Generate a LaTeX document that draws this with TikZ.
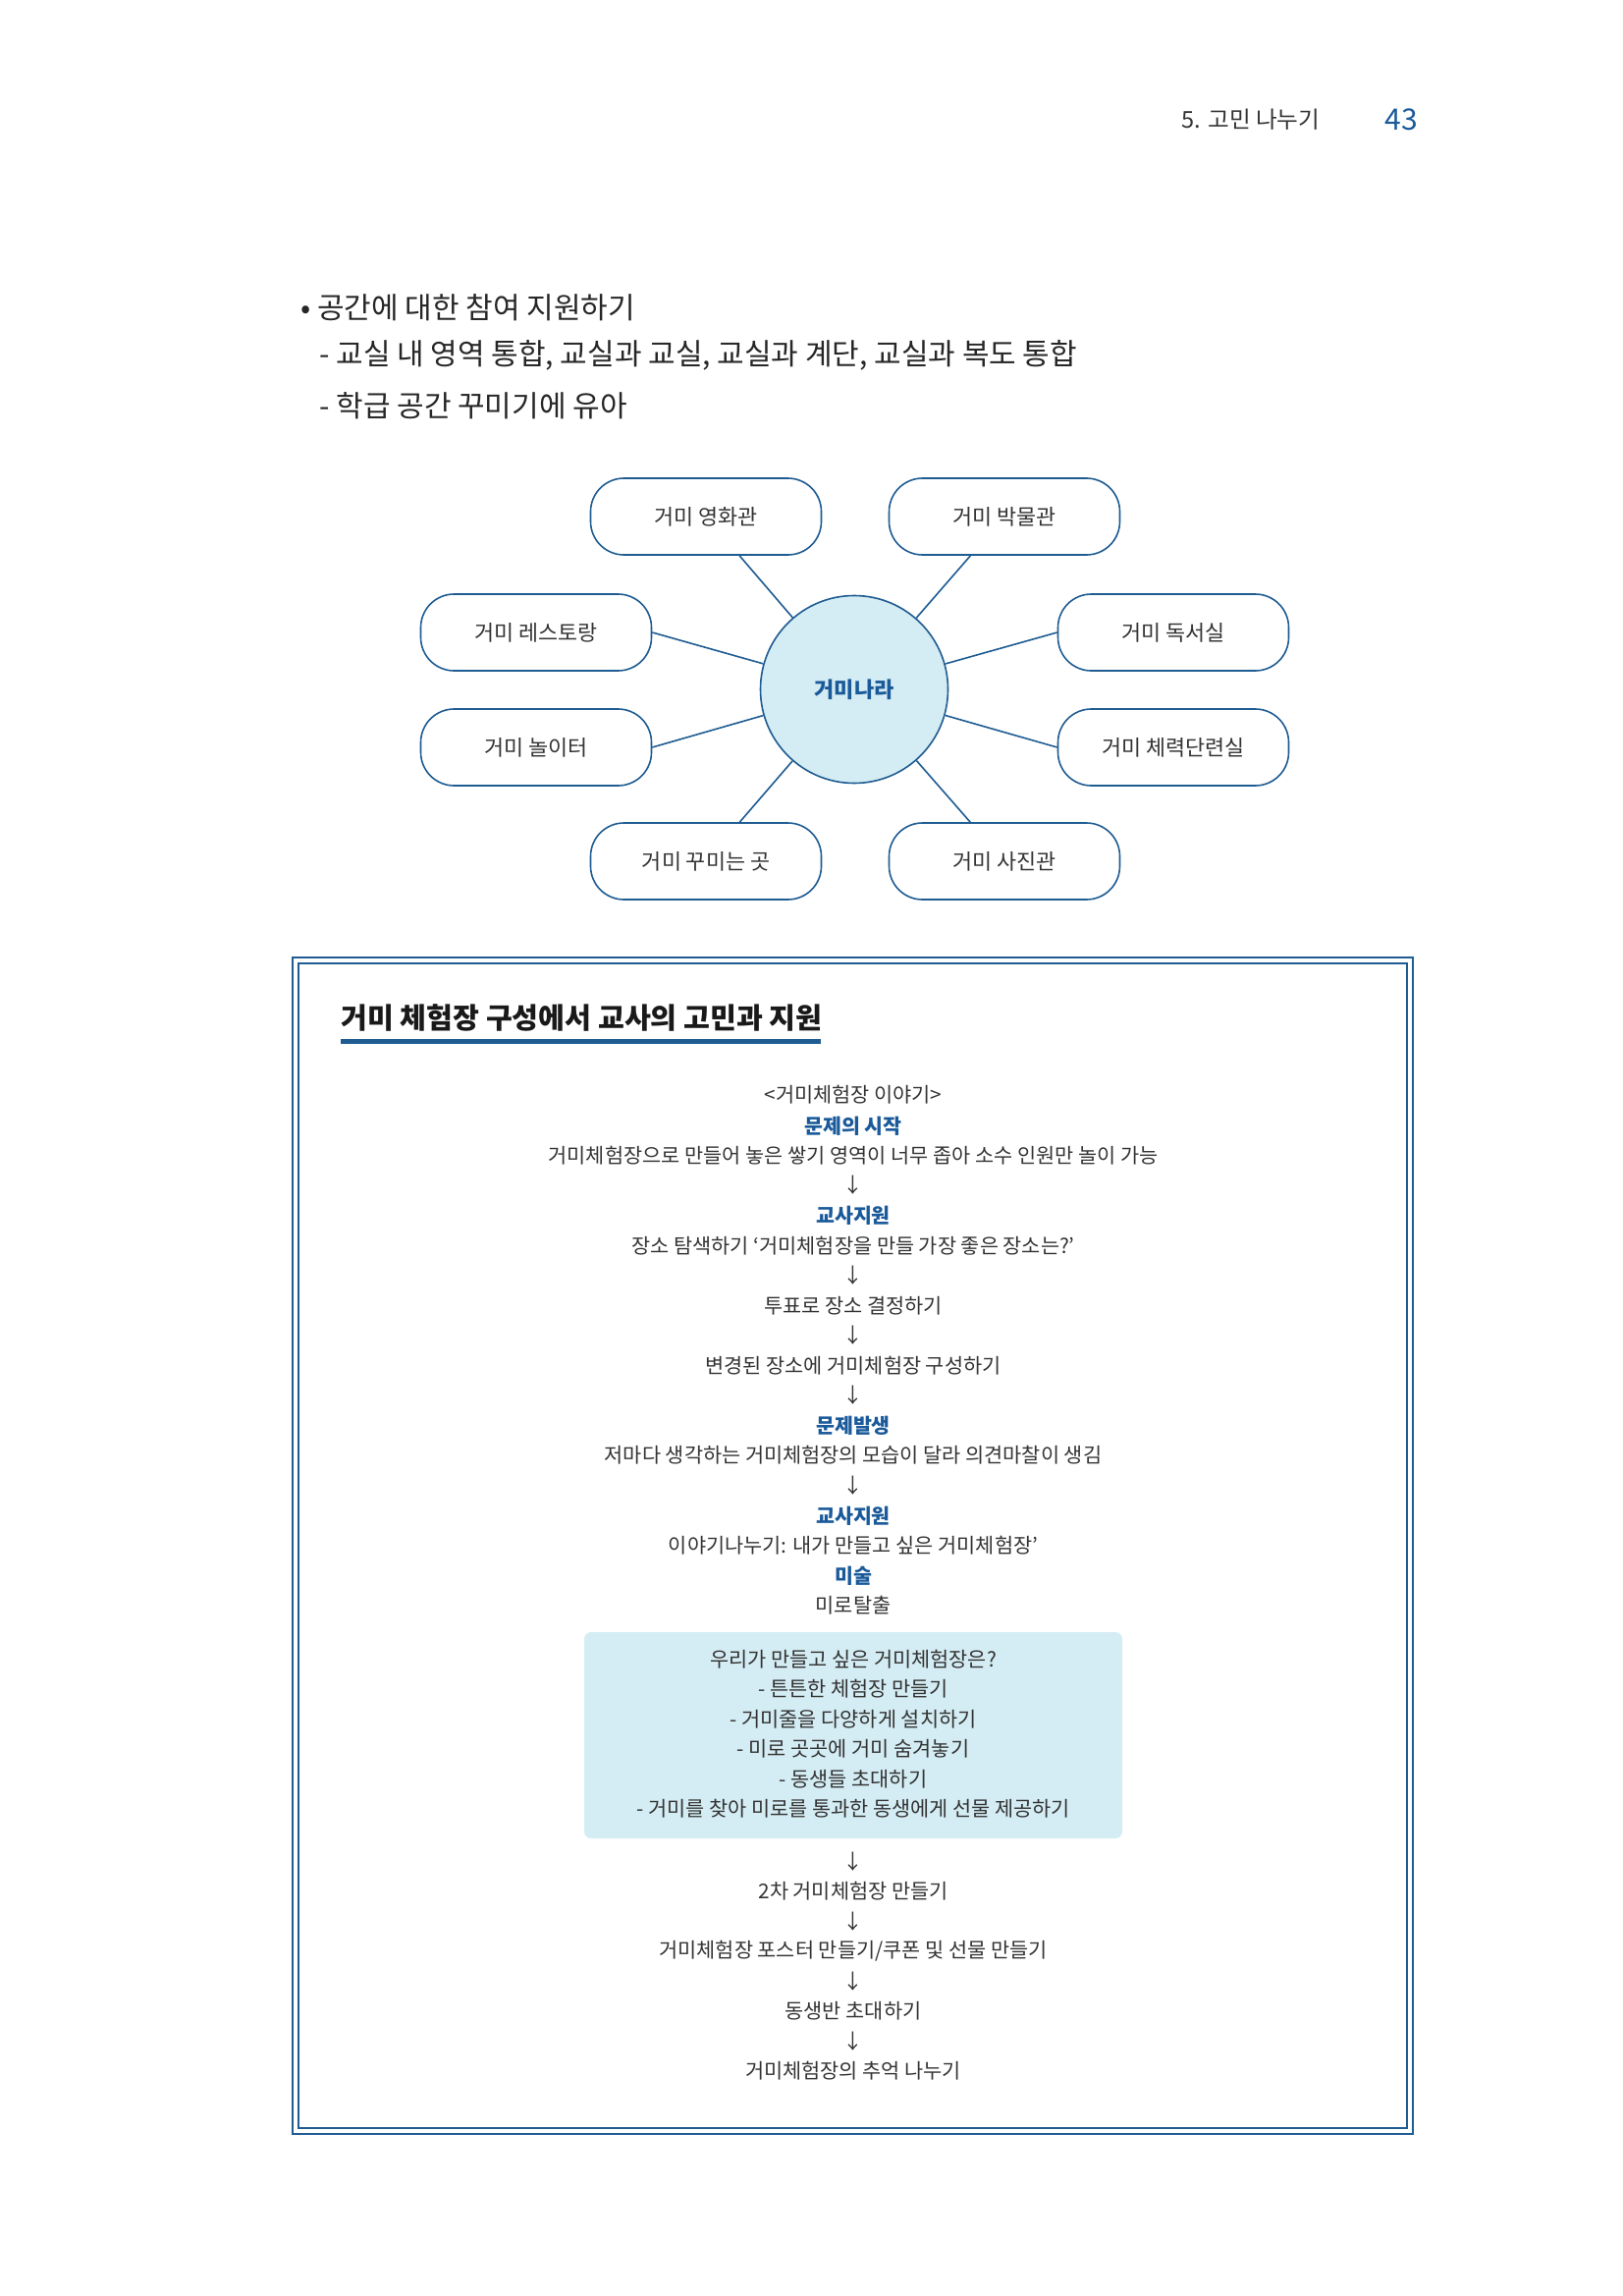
\documentclass[tikz,border=0pt]{standalone}
\usepackage{fontspec}
\setmainfont{Noto Sans CJK KR}
\definecolor{lineblue}{HTML}{1F5C92}
\definecolor{headblue}{HTML}{1A5A9A}
\definecolor{fillblue}{HTML}{D4ECF3}
\definecolor{txt}{HTML}{333333}
\begin{document}
\begin{tikzpicture}[x=0.5pt,y=-0.5pt,
  pill/.style={draw=lineblue, line width=0.8pt, rounded corners=17pt, minimum width=117.5pt, minimum height=39pt, inner sep=0pt, font=\fontsize{10.9}{12}\selectfont, text=txt, fill=white},
  hub/.style={circle, draw=lineblue, line width=0.8pt, fill=fillblue, minimum size=95.5pt, inner sep=0pt, font=\bfseries\fontsize{11}{12}\selectfont, text=headblue},
  link/.style={draw=lineblue, line width=0.8pt},
  flow/.style={inner sep=0pt, font=\fontsize{10.4}{12}\selectfont, text=txt},
  head/.style={inner sep=0pt, font=\bfseries\fontsize{10.3}{12}\selectfont, text=headblue},
  bul/.style={inner sep=0pt, anchor=west, font=\fontsize{15}{17}\selectfont, text=black!85},
  frame/.style={draw=lineblue, line width=1.25pt}
]
\useasboundingbox (0,0) rectangle (1653,2338);

% header
\node[inner sep=0pt, font=\fontsize{11.8}{13}\selectfont, text=txt] (hdr) at (1274,122) {5. 고민 나누기};
\node[inner sep=0pt, font=\fontsize{15}{17}\selectfont, text=headblue] (pg) at (1427,122) {43};

% bullet text
\node[bul] (b1) at (306,313) {• 공간에 대한 참여 지원하기};
\node[bul] (b2) at (325,362) {- 교실 내 영역 통합, 교실과 교실, 교실과 계단, 교실과 복도 통합};
\node[bul] (b3) at (325,413) {- 학급 공간 꾸미기에 유아};

% mind map
\node[hub] (hub) at (870,702) {거미나라};
\node[pill] (m1) at (719,526) {거미 영화관};
\node[pill] (m2) at (1023,526) {거미 박물관};
\node[pill] (m3) at (546,644) {거미 레스토랑};
\node[pill] (m4) at (1195,644) {거미 독서실};
\node[pill] (m5) at (546,761) {거미 놀이터};
\node[pill] (m6) at (1195,761) {거미 체력단련실};
\node[pill] (m7) at (719,877) {거미 꾸미는 곳};
\node[pill] (m8) at (1023,877) {거미 사진관};
\draw[link] (m1) -- (hub);
\draw[link] (m2) -- (hub);
\draw[link] (m7) -- (hub);
\draw[link] (m8) -- (hub);
\draw[link] (m3.east) -- (hub);
\draw[link] (m5.east) -- (hub);
\draw[link] (m4.west) -- (hub);
\draw[link] (m6.west) -- (hub);

% frame
\draw[frame] (298,975) rectangle (1439,2173);
\draw[frame] (304,981) rectangle (1433,2167);

% title
\node[inner sep=0pt, anchor=west, font=\bfseries\fontsize{14.6}{16}\selectfont, text=black!90] (title) at (347,1036) {거미 체험장 구성에서 교사의 고민과 지원};
\fill[lineblue] (347,1058) rectangle (836,1063);

% flow
\node[flow] (f1) at (869,1115) {<거미체험장 이야기>};
\node[head] (f2) at (869,1147) {문제의 시작};
\node[flow] (f3) at (869,1177) {거미체험장으로 만들어 놓은 쌓기 영역이 너무 좁아 소수 인원만 놀이 가능};
\node[flow] (a1) at (869,1207) {↓};
\node[head] (f4) at (869,1238) {교사지원};
\node[flow] (f5) at (869,1269) {장소 탐색하기 ‘거미체험장을 만들 가장 좋은 장소는?’};
\node[flow] (a2) at (869,1299) {↓};
\node[flow] (f6) at (869,1330) {투표로 장소 결정하기};
\node[flow] (a3) at (869,1360) {↓};
\node[flow] (f7) at (869,1391) {변경된 장소에 거미체험장 구성하기};
\node[flow] (a4) at (869,1421) {↓};
\node[head] (f8) at (869,1452) {문제발생};
\node[flow] (f9) at (869,1482) {저마다 생각하는 거미체험장의 모습이 달라 의견마찰이 생김};
\node[flow] (a5) at (869,1513) {↓};
\node[head] (f10) at (869,1544) {교사지원};
\node[flow] (f11) at (869,1574) {이야기나누기: 내가 만들고 싶은 거미체험장’};
\node[head] (f12) at (869,1605) {미술};
\node[flow] (f13) at (869,1635) {미로탈출};

\node[fill=fillblue, rounded corners=3.5pt, minimum width=274pt, minimum height=105pt, inner sep=0pt] (wish) at (869,1767) {};
\node[flow] (w1) at (869,1690) {우리가 만들고 싶은 거미체험장은?};
\node[flow] (w2) at (869,1720) {- 튼튼한 체험장 만들기};
\node[flow] (w3) at (869,1751) {- 거미줄을 다양하게 설치하기};
\node[flow] (w4) at (869,1781) {- 미로 곳곳에 거미 숨겨놓기};
\node[flow] (w5) at (869,1812) {- 동생들 초대하기};
\node[flow] (w6) at (869,1842) {- 거미를 찾아 미로를 통과한 동생에게 선물 제공하기};

\node[flow] (a6) at (869,1896) {↓};
\node[flow] (g1) at (869,1926) {2차 거미체험장 만들기};
\node[flow] (a7) at (869,1957) {↓};
\node[flow] (g2) at (869,1987) {거미체험장 포스터 만들기/쿠폰 및 선물 만들기};
\node[flow] (a8) at (869,2018) {↓};
\node[flow] (g3) at (869,2048) {동생반 초대하기};
\node[flow] (a9) at (869,2079) {↓};
\node[flow] (g4) at (869,2109) {거미체험장의 추억 나누기};
\end{tikzpicture}
\end{document}
